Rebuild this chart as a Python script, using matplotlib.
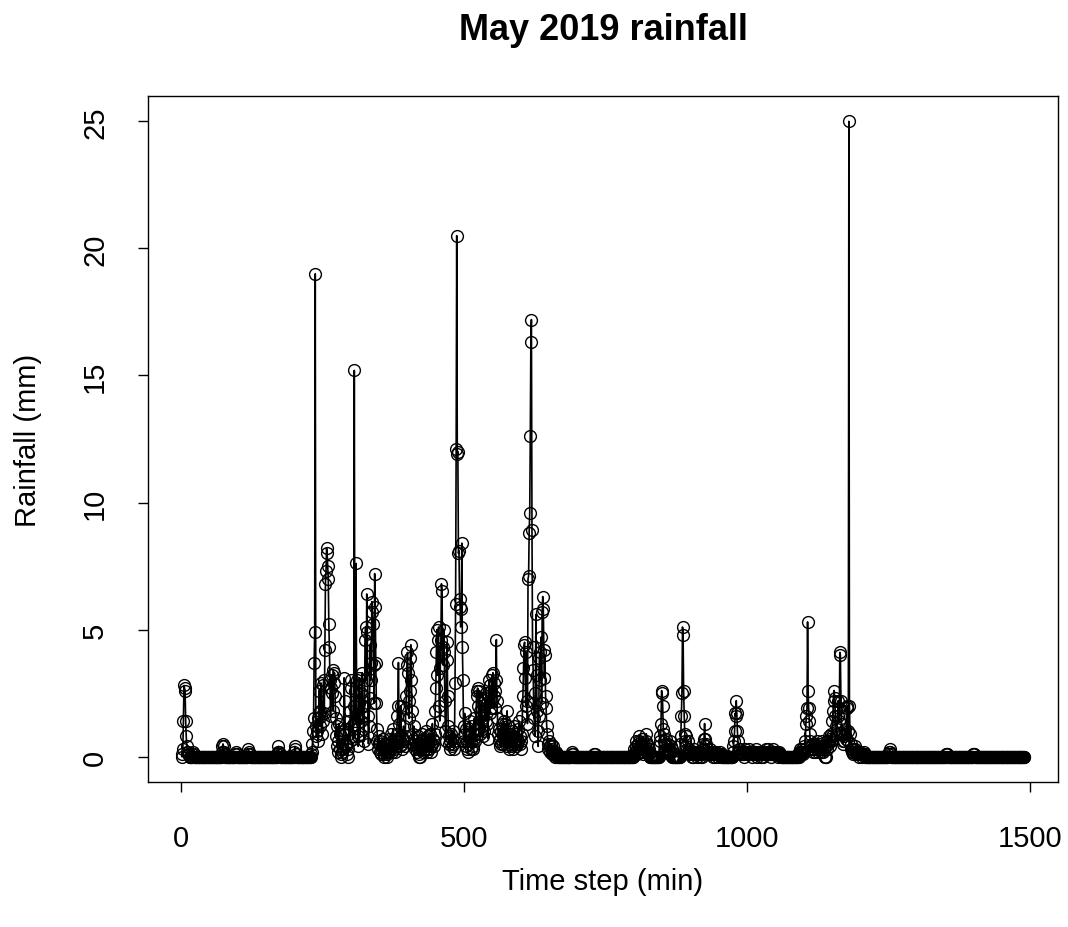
import numpy as np
import matplotlib
matplotlib.use("Agg")
import matplotlib.pyplot as plt

plt.rcParams["font.family"] = ["Liberation Sans", "DejaVu Sans"]

# rainfall per time step (mm); length of record and the wet spells
n_steps = 1490

ev_start = [2, 20, 72, 96, 118, 170, 200, 230, 304, 366, 423,
            508, 521, 536, 561, 581, 606, 641, 690, 730,
            800, 845, 882, 905, 922, 941, 975, 995, 1030,
            1092, 1140, 1185, 1250, 1352, 1400]

ev_vals = [
    [0.1, 0.3, 1.4, 2.8, 2.7, 2.6, 1.4, 0.8, 0.4, 0.2, 0.1, 0.2, 0.1],
    [0.1, 0.2, 0.1],
    [0.2, 0.4, 0.5, 0.4, 0.2, 0.1],
    [0.1, 0.2, 0.1],
    [0.1, 0.3, 0.2, 0.1],
    [0.1, 0.2, 0.4, 0.2, 0.1],
    [0.2, 0.4, 0.3, 0.1],
    [0.1, 0.2, 0.5, 1.0, 1.5, 3.7, 4.9, 19.0, 1.2, 0.8,
     1.0, 1.5, 0.6, 1.7, 2.6, 1.2, 1.8, 2.9, 1.6, 0.9,
     1.4, 2.8, 3.0, 1.7, 4.2, 6.8, 7.3, 8.2, 8.0, 7.5,
     7.0, 5.2, 4.3, 3.0, 1.6, 2.7, 3.2, 2.5, 1.8, 3.4,
     2.9, 3.3, 2.4, 1.5, 0.8, 1.2, 0.4, 0.2, 0.6, 1.3,
     0.9, 0.3, 0.1, 0.0, 0.2, 0.5, 0.3, 1.0, 3.1, 2.2,
     1.1, 0.5, 0.4, 0.1, 0.0, 0.3, 0.9, 1.4, 0.6, 1.8,
     3.0, 2.7, 1.2, 0.7],
    [0.8, 2.0, 15.2, 2.6, 1.4, 7.6, 3.0, 1.5, 0.8, 0.4,
     2.1, 3.1, 0.9, 1.4, 2.5, 1.7, 3.3, 2.4, 1.1, 0.6,
     2.0, 4.6, 5.1, 3.0, 6.4, 4.9, 1.6, 0.5, 1.2, 2.3,
     4.4, 3.0, 3.7, 6.1, 5.7, 5.2, 3.6, 2.1, 7.2, 5.9,
     3.7, 2.1, 1.1, 0.6, 0.3, 0.8, 0.5, 0.2, 0.6, 0.3,
     0.1, 0.4, 0.7, 0.3, 0.1, 0.0, 0.2, 0.5, 0.3, 0.1,
     0.0, 0.2],
    [0.4, 0.7, 0.2, 0.5, 0.9, 0.3, 0.6, 0.2, 0.4, 1.1,
     0.5, 0.3, 0.2, 0.7, 0.4, 0.9, 1.6, 2.0, 3.7, 1.3,
     0.6, 0.4, 2.0, 0.8, 0.5, 0.3, 0.7, 1.2, 0.6, 0.4,
     0.8, 1.9, 2.4, 3.6, 4.1, 3.3, 2.2, 1.5, 2.6, 3.9,
     4.4, 3.0, 1.8, 0.9, 0.5, 1.2, 0.7, 0.3, 0.6, 0.4,
     0.2, 0.5, 0.8, 0.3, 0.1],
    [0.3, 0.6, 0.9, 0.4, 0.2, 0.5, 0.7, 0.3, 0.6, 1.0,
     0.4, 0.2, 0.3, 0.8, 0.5, 0.3, 0.6, 0.9, 0.4, 0.2,
     0.5, 1.3, 0.7, 0.4, 0.6, 0.9, 1.8, 2.7, 4.1, 5.0,
     3.2, 4.6, 5.1, 2.0, 1.4, 3.5, 4.6, 6.8, 6.5, 4.3,
     3.6, 5.0, 4.1, 2.2, 1.0, 0.6, 3.8, 4.5, 2.4, 1.2,
     0.5, 0.8, 0.3, 0.6, 0.9, 0.4, 0.7, 1.0, 0.5, 0.3,
     0.6, 2.9, 6.0, 12.1, 20.5, 11.9, 12.0, 8.0, 8.1, 6.2,
     5.9, 5.1, 5.8, 8.4, 4.3, 3.0, 1.2, 0.6, 1.7, 0.9,
     0.4, 1.1, 0.6, 0.3, 0.2],
    [0.5, 0.9, 1.4, 0.8, 0.3, 0.6, 1.2, 0.4, 0.3, 0.7, 1.5, 0.9, 0.6],
    [1.1, 2.6, 2.4, 2.7, 2.0, 1.1, 2.6, 1.8, 0.9, 1.6, 2.1, 1.4, 0.8, 1.5, 1.0],
    [1.8, 2.3, 1.4, 2.5, 2.1, 1.3, 0.7, 2.4, 3.0, 1.7,
     2.8, 1.9, 2.6, 3.2, 2.2, 3.3, 2.9, 2.4, 1.9, 2.6,
     3.0, 4.6, 2.2, 1.5, 0.9],
    [0.6, 1.1, 0.7, 0.4, 1.0, 0.5, 1.3, 0.8, 0.5, 1.4,
     0.9, 0.6, 1.3, 0.8, 0.4, 1.8, 1.2, 0.9, 0.5, 0.3],
    [0.6, 0.9, 0.4, 0.7, 1.0, 0.5, 0.3, 0.8, 1.2, 0.6,
     0.4, 0.9, 0.5, 0.7, 1.1, 0.6, 1.4, 0.8, 0.5, 0.3,
     0.6, 0.9, 1.6, 2.4, 3.5],
    [4.4, 4.5, 3.1, 2.0, 4.1, 2.2, 1.3, 7.0, 7.1, 8.8,
     9.6, 12.6, 16.3, 17.2, 8.9, 4.3, 3.4, 2.1, 1.5, 0.8,
     2.5, 5.6, 3.2, 1.8, 1.0, 0.4, 1.6, 3.9, 4.1, 3.0,
     4.7, 2.1, 5.7, 6.3, 5.8],
    [4.2, 3.1, 4.0, 2.4, 1.9, 1.2, 0.9, 0.5, 0.3, 0.6,
     0.4, 0.2, 0.5, 0.3, 0.1, 0.2, 0.4, 0.2, 0.1, 0.0,
     0.1, 0.2, 0.1, 0.0, 0.1],
    [0.1, 0.2, 0.1],
    [0.1, 0.1],
    [0.1, 0.3, 0.2, 0.4, 0.6, 0.3, 0.1, 0.2, 0.5, 0.8,
     0.6, 0.3, 0.2, 0.4, 0.7, 0.5, 0.3, 0.1, 0.2, 0.4,
     0.3, 0.6, 0.9, 0.5, 0.2, 0.4, 0.3, 0.1],
    [0.4, 0.8, 0.6, 1.3, 2.6, 2.5, 2.0, 1.1, 0.6, 0.9,
     0.5, 0.3, 0.7, 0.4, 0.2, 0.5, 0.3, 0.1, 0.3, 0.6,
     0.4, 0.2, 0.3],
    [0.5, 0.8, 1.6, 2.5, 5.1, 4.8, 2.6, 1.6, 0.9, 0.6,
     0.8, 0.4, 0.3, 0.6, 0.2, 0.1, 0.3, 0.2, 0.1, 0.2,
     0.1, 0.0],
    [0.2, 0.1, 0.3, 0.2, 0.1, 0.2, 0.1, 0.0, 0.1, 0.2,
     0.1, 0.1, 0.0, 0.1, 0.2, 0.1, 0.0, 0.1],
    [0.3, 0.5, 0.7, 1.3, 0.7, 0.5, 0.4, 0.2, 0.3, 0.1,
     0.2, 0.1, 0.3, 0.2, 0.1, 0.1, 0.2, 0.1],
    [0.1, 0.2, 0.1, 0.0, 0.1, 0.2, 0.1, 0.1, 0.0, 0.1,
     0.1, 0.2, 0.1, 0.0, 0.1],
    [0.2, 0.4, 0.6, 1.0, 1.7, 1.6, 2.2, 1.7, 1.0, 0.6,
     0.3, 0.2, 0.3, 0.1, 0.2, 0.1, 0.1, 0.2, 0.1, 0.0],
    [0.1, 0.2, 0.3, 0.2, 0.1, 0.2, 0.1, 0.2, 0.3, 0.2,
     0.1, 0.1, 0.2, 0.1, 0.0, 0.1, 0.2, 0.1, 0.1, 0.2,
     0.3, 0.2, 0.1, 0.0, 0.1, 0.1, 0.2, 0.1, 0.1, 0.0,
     0.1, 0.2, 0.1, 0.1, 0.0],
    [0.1, 0.2, 0.1, 0.3, 0.2, 0.1, 0.2, 0.3, 0.2, 0.1,
     0.1, 0.2, 0.1, 0.0, 0.1, 0.2, 0.3, 0.2, 0.1, 0.1,
     0.2, 0.1, 0.1, 0.2, 0.1, 0.0, 0.1, 0.2, 0.1, 0.1],
    [0.2, 0.3, 0.2, 0.1, 0.2, 0.3, 0.2, 0.1, 0.2, 0.4,
     0.3, 0.6, 1.3, 1.6, 1.9, 5.3, 2.6, 1.9, 1.4, 0.9,
     0.6, 0.4, 0.3, 0.5, 0.3, 0.2, 0.4, 0.3, 0.2, 0.5,
     0.4, 0.3, 0.6, 0.4, 0.2, 0.3, 0.5, 0.3, 0.2, 0.4,
     0.6, 0.3, 0.2, 0.4, 0.3],
    [0.4, 0.6, 0.3, 0.5, 0.8, 0.6, 0.4, 0.7, 0.9, 0.6,
     0.8, 1.4, 1.8, 2.2, 2.6, 2.3, 1.6, 1.2, 0.9, 1.1,
     1.6, 2.2, 1.9, 1.4, 4.1, 4.0, 2.2, 1.3, 0.9, 0.6,
     0.5, 0.8, 0.6, 1.1, 0.9, 0.7, 1.9, 2.0, 1.0, 0.6,
     25.0, 2.0, 0.9, 0.5, 0.3],
    [0.2, 0.3, 0.2, 0.1, 0.3, 0.4, 0.3, 0.2, 0.1, 0.2,
     0.1, 0.2, 0.1, 0.0, 0.1, 0.2, 0.1, 0.1, 0.0, 0.1,
     0.1, 0.2, 0.1, 0.0, 0.1],
    [0.1, 0.2, 0.3, 0.2, 0.1],
    [0.1, 0.1, 0.1],
    [0.1, 0.1, 0.1],
]

rain = np.zeros(n_steps)
for s, v in zip(ev_start, ev_vals, strict=True):
    rain[s - 1:s - 1 + len(v)] = v
steps = np.arange(1, n_steps + 1)

fig = plt.figure(figsize=(10.68, 9.28), dpi=100)
ax = fig.add_axes([148 / 1068, 1 - 783 / 928, 910 / 1068, 686 / 928])

ax.plot(steps, rain, color="black", lw=1.2, marker="o", ms=8.5,
        mfc="none", mec="black", mew=1.0)

pad = 0.04 * (steps.max() - steps.min())
ax.set_xlim(steps.min() - pad, steps.max() + pad)
ax.set_ylim(-1.0, 26.0)
ax.set_xticks([0, 500, 1000, 1500])
ax.set_yticks([0, 5, 10, 15, 20, 25])
ax.tick_params(labelsize=21, length=7, width=1, color="black")
ax.tick_params(axis="x", pad=23.5)
ax.tick_params(axis="y", pad=21)
for lab in ax.get_yticklabels():
    lab.set_rotation(90)
    lab.set_va("center")
for sp in ax.spines.values():
    sp.set_linewidth(1.0)

ax.set_title("May 2019 rainfall", fontsize=26, fontweight="bold",
             y=(783 - 30) / 686, va="center", pad=0)
ax.set_xlabel("Time step (min)", fontsize=21, va="center")
ax.xaxis.set_label_coords(0.5, (783 - 882) / 686)
ax.set_ylabel("Rainfall (mm)", fontsize=21, va="center")
ax.yaxis.set_label_coords((28 - 148) / 910, 0.5)

fig.savefig("out.png", dpi=100)
